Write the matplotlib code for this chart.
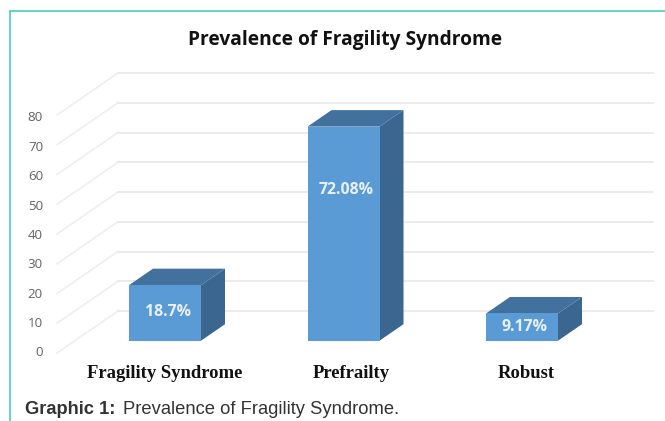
import matplotlib
matplotlib.use("Agg")
import matplotlib.pyplot as plt
from matplotlib.patches import Polygon
from matplotlib.lines import Line2D

categories = ["Fragility Syndrome", "Prefrailty", "Robust"]
values = [18.7, 72.08, 9.17]
value_labels = ["18.7%", "72.08%", "9.17%"]
ticks = [0, 10, 20, 30, 40, 50, 60, 70, 80]
title = "Prevalence of Fragility Syndrome"

W, H = 665, 421
PX_CAT, PX_VAL = 178.5, 2.97
X0, Y0 = 165.0, 340.7   # pixel position of category 0 / value 0 (front of bars)


def vy(py):
    return (Y0 - py) / PX_VAL


def cx(px):
    return (px - X0) / PX_CAT


fig = plt.figure(figsize=(W / 100, H / 100), dpi=100, facecolor="white")
ax = fig.add_axes([0, 0, 1, 1])
ax.set_xlim(cx(0), cx(W))
ax.set_ylim(vy(H), vy(0))
ax.axis("off")

BAR_W = 72 / PX_CAT
DX, DY = 24 / PX_CAT, 16.5 / PX_VAL

for t in ticks:
    off = t * 29.75 / 10 / PX_VAL
    ax.plot([cx(57), cx(118)], [vy(353) + off, vy(311) + off], color="#eeeeee", lw=1.2, zorder=1)
    ax.plot([cx(118), cx(653)], [vy(311) + off, vy(311) + off], color="#e8e8e8", lw=1.2, zorder=1)
    ax.text(cx(43), vy(353) + t * 29.4 / 10 / PX_VAL, str(t), ha="right", va="center",
            family="Open Sans", fontsize=9.6, color="#636363", zorder=2)

front_c, top_c, side_c = "#5b9bd5", "#41719c", "#3a6690"
for i, v in enumerate(values):
    l, r = i - BAR_W / 2, i + BAR_W / 2
    ax.add_patch(Polygon([(r, 0), (r + DX, DY), (r + DX, v + DY), (r, v)], fc=side_c, ec="none", zorder=3))
    ax.add_patch(Polygon([(l, v), (r, v), (r + DX, v + DY), (l + DX, v + DY)], fc=top_c, ec="none", zorder=3))
    ax.add_patch(Polygon([(l, 0), (r, 0), (r, v), (l, v)], fc=front_c, ec="none", zorder=4))

label_v = [vy(312), vy(190), vy(327)]
for i, lab in enumerate(value_labels):
    ax.text(i + 3 / PX_CAT, label_v[i], lab, ha="center", va="center", family="Open Sans", weight="bold",
            fontsize=11.4, color="#e8f1fa", zorder=5)

cat_x = [cx(165), cx(351), cx(526.5)]
cat_y = [vy(374), vy(373), vy(374)]
for x, y, c in zip(cat_x, cat_y, categories):
    ax.text(x, y, c, ha="center", va="center", family="Liberation Serif", weight="bold",
            fontsize=13.4, color="#111111")

ax.text(cx(345), vy(40), title, ha="center", va="center",
        family="Open Sans", weight="bold", fontsize=13.8, color="#111111")

ax.text(cx(25), vy(410), "Graphic 1:", ha="left", va="center",
        family="Liberation Sans", weight="bold", fontsize=13.2, color="#333333")
ax.text(cx(123), vy(410), "Prevalence of Fragility Syndrome.", ha="left", va="center",
        family="Liberation Sans", fontsize=13.2, color="#333333")

teal = "#45d0bd"
fig.add_artist(Line2D([9.5 / W, 9.5 / W, 1], [0, 1 - 10.5 / H, 1 - 10.5 / H], color=teal, lw=1.2,
                      solid_joinstyle="miter"))
fig.savefig("out.png", dpi=100)
